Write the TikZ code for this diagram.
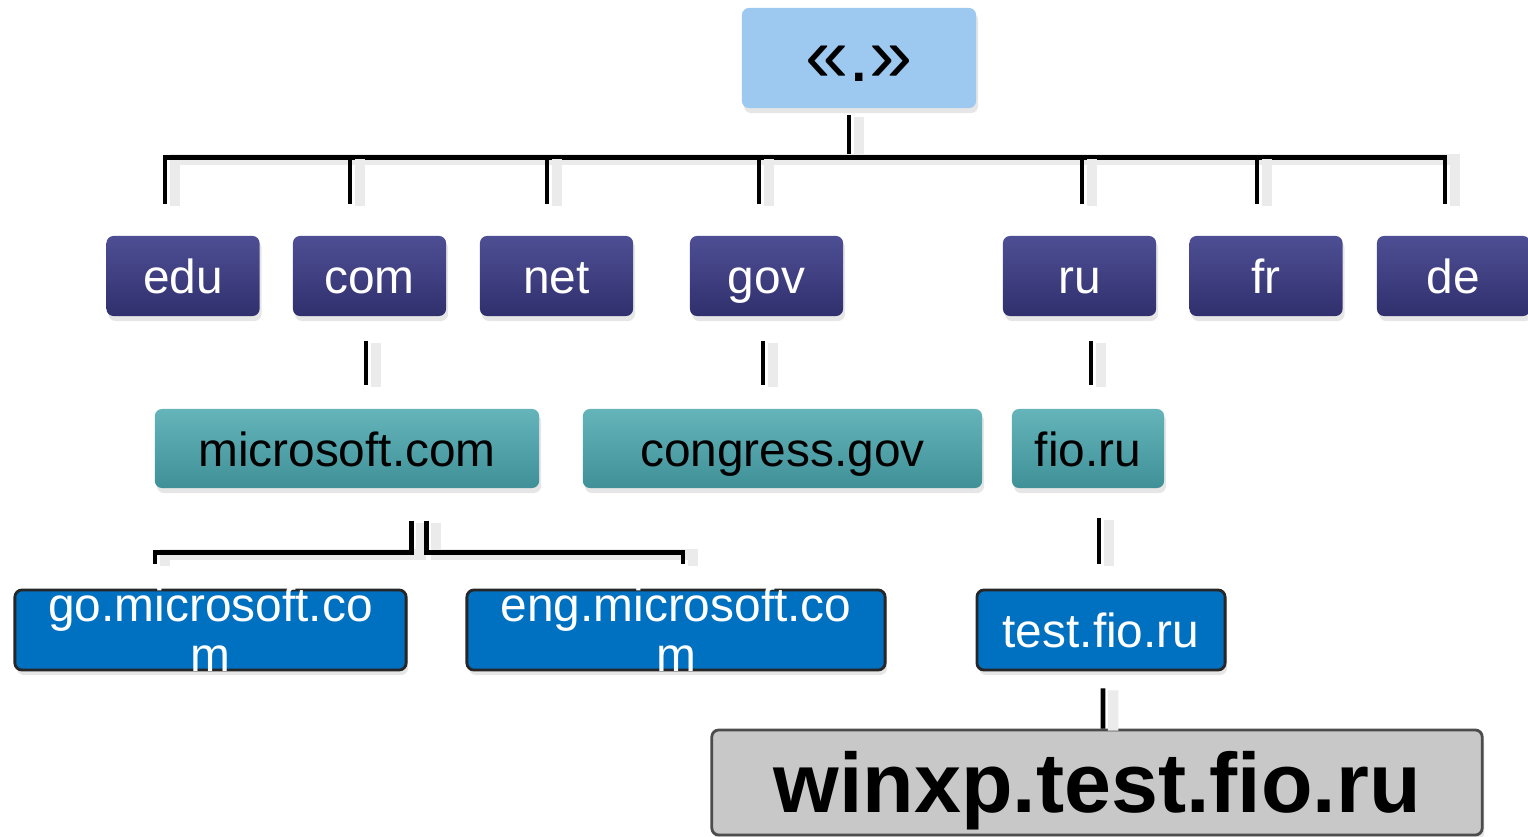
\documentclass[tikz,border=0pt]{standalone}
\usepackage{fontspec}
\setmainfont{Liberation Sans}
\usetikzlibrary{shadows}

\definecolor{rootblue}{HTML}{9DC8F0}
\definecolor{tldtop}{RGB}{78,78,148}
\definecolor{tldbot}{RGB}{48,48,110}
\definecolor{domtop}{RGB}{100,180,186}
\definecolor{dombot}{RGB}{64,144,152}
\definecolor{subblue}{HTML}{0070C0}
\definecolor{hostgray}{HTML}{C8C8C8}

\begin{document}
\begin{tikzpicture}[x=0.01cm, y=-0.01cm,
    box/.style={rounded corners=0.07cm, inner sep=0pt, text height=10pt, text depth=0pt,
                font=\fontsize{13.6}{14.2}\selectfont,
                drop shadow={opacity=0.2, shadow xshift=0.02cm, shadow yshift=-0.05cm}},
    rootbox/.style={box, fill=rootblue, text=black, minimum width=2.34cm,
                    minimum height=1cm, text height=13.6pt, font=\fontsize{22}{24}\selectfont},
    tld/.style={box, top color=tldtop, bottom color=tldbot, text=white,
                minimum width=1.53cm, minimum height=0.8cm},
    dom/.style={box, top color=domtop, bottom color=dombot, text=black,
                minimum height=0.79cm},
    sub/.style={box, fill=subblue, draw=black!85, line width=0.8pt, text=white,
                minimum height=0.8cm},
    subtext/.style={text=white, align=center, font=\fontsize{13.6}{14.2}\selectfont},
    host/.style={box, fill=hostgray, draw=black!70, line width=0.8pt, text=black,
                 minimum width=7.7cm, minimum height=1.05cm, text height=17pt,
                 font=\fontsize{24}{28}\selectfont\bfseries},
    wire/.style={line width=1.4pt,
                 preaction={draw=black!8, line width=3pt,
                            transform canvas={shift={(0.1cm,-0.02cm)}}}}]
  \useasboundingbox (0,0) rectangle (1528,837);

  % root
  \node[rootbox] (root) at (859,58) {«.»};

  % top level domains
  \node[tld] (edu) at (183,276)    {edu};
  \node[tld] (com) at (369.5,276)  {com};
  \node[tld] (net) at (556.5,276)  {net};
  \node[tld] (gov) at (766.5,276)  {gov};
  \node[tld] (ru)  at (1079.5,276) {ru};
  \node[tld] (fr)  at (1266,276)   {fr};
  \node[tld] (de)  at (1453.5,276) {de};

  % second level
  \node[dom, minimum width=3.84cm] (ms)       at (347,448.5)   {microsoft.com};
  \node[dom, minimum width=3.99cm] (congress) at (782.5,448.5) {congress.gov};
  \node[dom, minimum width=1.52cm] (fio)      at (1088,448.5)  {fio.ru};

  % third level
  \node[sub, minimum width=3.91cm,
        label={[subtext, yshift=0.01cm]center:go.microsoft.co\\m}]  (go)   at (210.5,630) {};
  \node[sub, minimum width=4.18cm,
        label={[subtext, yshift=0.01cm]center:eng.microsoft.co\\m}] (eng)  at (676,630)   {};
  \node[sub, minimum width=2.48cm] (test) at (1101,630) {test.fio.ru};

  % host
  \node[host] (winxp) at (1097,782.5) {winxp.test.fio.ru};

  % root to top level
  \draw[wire] ([xshift=-0.1cm,yshift=-0.06cm]root.south) -- ++(0,44);
  \draw[wire] ([xshift=-0.18cm,yshift=0.31cm]edu.north) -- ++(0,-47)
              -| ([xshift=-0.085cm,yshift=0.31cm]de.north);
  \foreach \n/\dx in {com/-0.195, net/-0.095, gov/-0.075, ru/0.025, fr/-0.09}
    \draw[wire] ([xshift=\dx cm,yshift=0.31cm]\n.north) -- ++(0,-47);

  % top level to second level
  \foreach \n/\dx in {com/-0.035, gov/-0.035, ru/0.115}
    \draw[wire] ([xshift=\dx cm,yshift=-0.24cm]\n.south) -- ++(0,44);

  % second level to third level
  \draw[wire] ([xshift=0.64cm,yshift=-0.32cm]ms.south) -- ++(0,32)
              -| ([xshift=-0.555cm,yshift=0.25cm]go.north);
  \draw[wire] ([xshift=0.79cm,yshift=-0.32cm]ms.south) -- ++(0,32)
              -| ([xshift=0.07cm,yshift=0.25cm]eng.north);
  \draw[wire] ([xshift=0.11cm,yshift=-0.29cm]fio.south) -- ++(0,46);

  % host
  \draw[wire] ([xshift=0.02cm,yshift=-0.17cm]test.south) -- ([xshift=0.06cm]winxp.north);
\end{tikzpicture}
\end{document}
